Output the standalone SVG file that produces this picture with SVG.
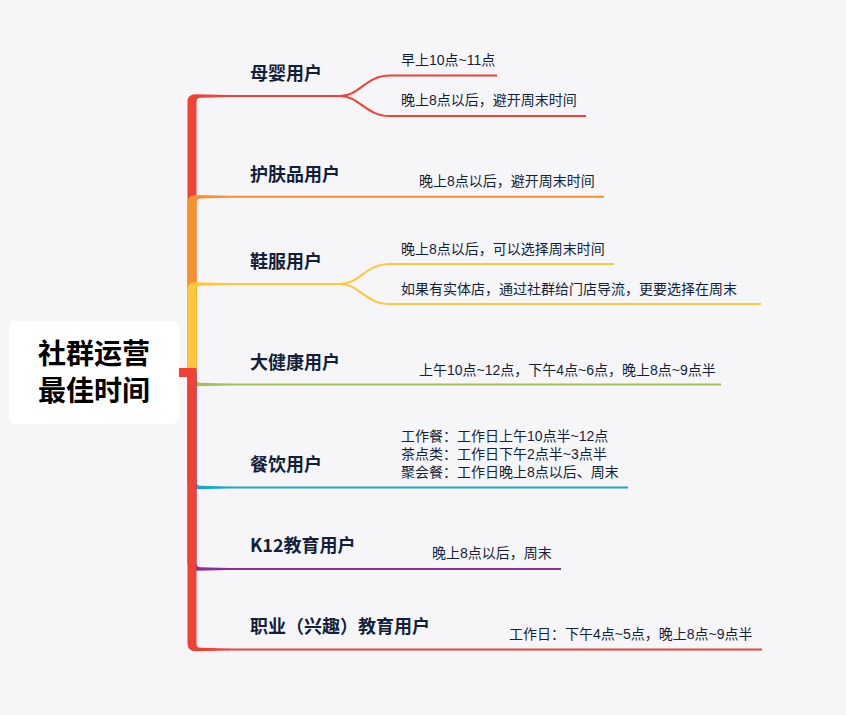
<svg xmlns="http://www.w3.org/2000/svg" width="846" height="715" viewBox="0 0 846 715">
<style>
.t{font-family:"Noto Sans CJK SC","Noto Sans",sans-serif;fill:#131F3A}
.main{font-size:18px;font-weight:bold}
.sub{font-size:14px;font-family:"Liberation Sans","Noto Sans CJK SC",sans-serif}
.root{font-size:28px;font-weight:bold;fill:#000;text-anchor:middle}
.ln{fill:none;stroke-width:2}
.red{fill:#EE4237}.redl{stroke:#EE4237}
.org{fill:#F8922E}.orgl{stroke:#F8922E}
.yel{fill:#FFC73A}.yell{stroke:#FFC73A}
.grn{fill:#A3C44C}.grnl{stroke:#A3C44C}
.cyn{fill:#1AA6CE}.cynl{stroke:#1AA6CE}
.pur{fill:#8C2F94}.purl{stroke:#8C2F94}
</style>
<rect width="846" height="715" fill="#F6F6F9"/>
<g id="connectors">
  <path class="red" d="M187.5,372 L187.5,102 Q187.5,94.3 195.5,94.3 L229,95 L229,97 L200.5,97.7 Q196.5,97.7 196.5,101.7 L196.5,372 Z"/>
  <path class="org" d="M187.5,372 L187.5,203 Q187.5,195.1 195.5,195.1 L229,195.8 L229,197.8 L200.5,198.5 Q196.5,198.5 196.5,202.5 L196.5,372 Z"/>
  <path class="yel" d="M187.5,372 L187.5,290 Q187.5,282.3 195.5,282.3 L229,283 L229,285 L200.5,285.7 Q196.5,285.7 196.5,289.7 L196.5,372 Z"/>
  <path class="grn" d="M187.5,372 L196.5,372 L196.5,378.8 Q196.5,382.8 200.5,382.8 L229,383.5 L229,385.5 L195.5,386.2 Q187.5,386.2 187.5,378.5 Z"/>
  <path class="cyn" d="M187.5,372 L196.5,372 L196.5,481.8 Q196.5,485.8 200.5,485.8 L229,486.5 L229,488.5 L195.5,489.2 Q187.5,489.2 187.5,481.5 Z"/>
  <path class="pur" d="M187.5,372 L196.5,372 L196.5,563.3 Q196.5,567.3 200.5,567.3 L229,568 L229,570 L195.5,570.7 Q187.5,570.7 187.5,563 Z"/>
  <path class="red" d="M179,368 L196.5,368 L196.5,643.8 Q196.5,647.8 200.5,647.8 L229,648.5 L229,650.5 L195.5,651.2 Q187.5,651.2 187.5,643.5 L187.5,377 L179,377 Z"/>
  <path class="ln redl" d="M228,96 H342"/>
  <path class="ln redl" d="M340,96 C360,96 365,75.5 390,75.5 H497"/>
  <path class="ln redl" d="M340,96 C360,96 365,116 390,116 H586"/>
  <path class="ln orgl" d="M228,196.8 H604"/>
  <path class="ln yell" d="M228,284 H342"/>
  <path class="ln yell" d="M340,284 C360,284 365,264 390,264 H614"/>
  <path class="ln yell" d="M340,284 C360,284 365,304 390,304 H761"/>
  <path class="ln grnl" d="M228,384.5 H721"/>
  <path class="ln cynl" d="M228,487.5 H628"/>
  <path class="ln purl" d="M228,569 H561"/>
  <path class="ln redl" d="M228,649.5 H762"/>
</g>
<g id="root">
  <rect x="9" y="321" width="170" height="103" rx="7" fill="#FFFFFF"/>
  <text class="t root" x="94" y="364">社群运营</text>
  <text class="t root" x="94" y="401">最佳时间</text>
</g>
<g id="muying">
  <text class="t main" x="250" y="80">母婴用户</text>
  <text class="t sub" x="401" y="65">早上10点~11点</text>
  <text class="t sub" x="401" y="105">晚上8点以后，避开周末时间</text>
</g>
<g id="hufupin">
  <text class="t main" x="250" y="180.5">护肤品用户</text>
  <text class="t sub" x="419" y="186">晚上8点以后，避开周末时间</text>
</g>
<g id="xiefu">
  <text class="t main" x="250" y="267.5">鞋服用户</text>
  <text class="t sub" x="401" y="253.5">晚上8点以后，可以选择周末时间</text>
  <text class="t sub" x="401" y="293.5">如果有实体店，通过社群给门店导流，更要选择在周末</text>
</g>
<g id="dajiankang">
  <text class="t main" x="250" y="368.5">大健康用户</text>
  <text class="t sub" x="419" y="374.5">上午10点~12点，下午4点~6点，晚上8点~9点半</text>
</g>
<g id="canyin">
  <text class="t main" x="250" y="471">餐饮用户</text>
  <text class="t sub" x="401" y="441"><tspan x="401" y="441">工作餐：工作日上午10点半~12点</tspan><tspan x="401" y="459">茶点类：工作日下午2点半~3点半</tspan><tspan x="401" y="477">聚会餐：工作日晚上8点以后、周末</tspan></text>
</g>
<g id="k12">
  <text class="t main" x="250" y="552">K12教育用户</text>
  <text class="t sub" x="432" y="558">晚上8点以后，周末</text>
</g>
<g id="zhiye">
  <text class="t main" x="250" y="633">职业（兴趣）教育用户</text>
  <text class="t sub" x="509" y="639">工作日：下午4点~5点，晚上8点~9点半</text>
</g>
</svg>
